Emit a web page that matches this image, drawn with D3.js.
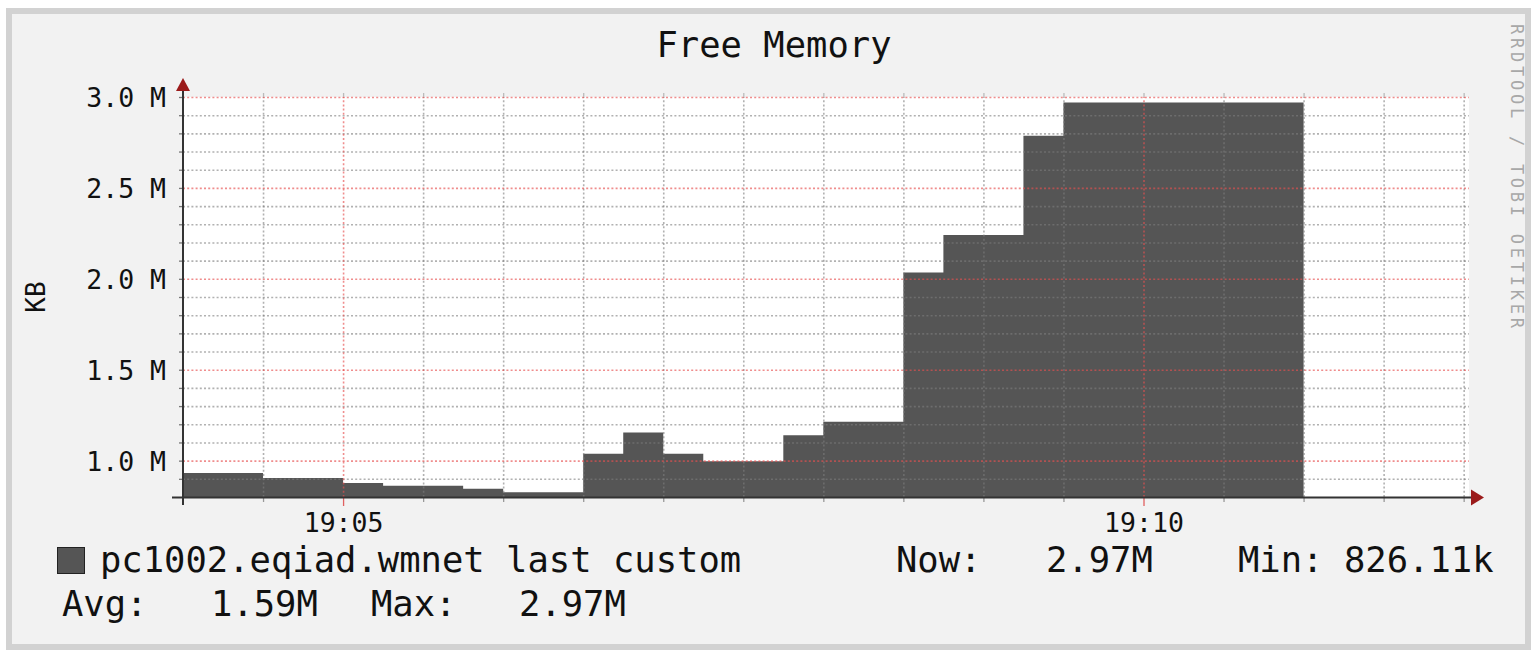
<!doctype html>
<meta charset="utf-8">
<script src="https://d3js.org/d3.v7.min.js"></script>
<style>
  body { margin: 0; background: #fff; }
  text { font-family: "DejaVu Sans Mono", monospace; fill: #111; }
</style>
<body>
<svg width="1534" height="653"></svg>
<script>
// ---- data (free memory in KB, one value per 15 s step) ----
var stepTimes = ["19:04:00", "19:04:15", "19:04:30", "19:04:45", "19:05:00", "19:05:15", "19:05:30",
  "19:05:45", "19:06:00", "19:06:15", "19:06:30", "19:06:45", "19:07:00", "19:07:15",
  "19:07:30", "19:07:45", "19:08:00", "19:08:15", "19:08:30", "19:08:45", "19:09:00",
  "19:09:15", "19:09:30", "19:09:45", "19:10:00", "19:10:15", "19:10:30", "19:10:45"];
var freeKB = [932000, 932000, 905000, 905000, 877000, 862000, 862000,
  846000, 826110, 826110, 1038000, 1155000, 1038000, 996000,
  996000, 1139000, 1214000, 1214000, 2035000, 2241000, 2241000,
  2787000, 2970000, 2970000, 2970000, 2970000, 2970000, 2970000];
var lastTime = "19:11:00";

var xDomain = ["19:04:00", "19:12:02"];
var yDomain = [800000, 3000000];
var yMajor = [1000000, 1500000, 2000000, 2500000, 3000000];
var yMajorLabels = ["1.0 M", "1.5 M", "2.0 M", "2.5 M", "3.0 M"];
var xMajor = ["19:05:00", "19:10:00"];
var xMajorLabels = ["19:05", "19:10"];

var seriesName = "pc1002.eqiad.wmnet last custom";
var statNames = ["Now:", "Min:", "Avg:", "Max:"];
var statValues = ["2.97M", "826.11k", "1.59M", "2.97M"];

// ---- layout ----
var svg = d3.select("svg");
var pLeft = 183, pRight = 1469, pTop = 97, pBottom = 497;
var parse = d3.timeParse("%H:%M:%S");

var x = d3.scaleTime().domain(xDomain.map(parse)).range([pLeft, pRight]);
var y = d3.scaleLinear().domain(yDomain).range([pBottom, pTop]);

// canvas + border
svg.append("rect").attr("x", 9).attr("y", 11).attr("width", 1519).attr("height", 636)
  .attr("fill", "#f2f2f2").attr("stroke", "#d2d2d2").attr("stroke-width", 6);

// plot background
svg.append("rect").attr("x", pLeft).attr("y", pTop)
  .attr("width", pRight - pLeft).attr("height", pBottom - pTop).attr("fill", "#fff");

// area
var points = stepTimes.map(function (t, i) { return { t: parse(t), v: freeKB[i] }; });
points.push({ t: parse(lastTime), v: freeKB[freeKB.length - 1] });

var area = d3.area()
  .curve(d3.curveStepAfter)
  .x(function (d) { return x(d.t); })
  .y0(pBottom)
  .y1(function (d) { return y(d.v); });

svg.append("path").datum(points).attr("d", area).attr("fill", "#555555");

// --------------------------------------------------------------- //
// grid (drawn on top of the area, like rrdtool)
var t0 = parse("19:04:00");
var xMinor = d3.timeSecond.every(30).range(d3.timeSecond.offset(t0, 30), x.domain()[1])
  .filter(function (d) { return d.getSeconds() !== 0 || d.getMinutes() % 5 !== 0; });
var yMinor = d3.range(9, 30).map(function (k) { return k * 100000; })
  .filter(function (v) { return v % 500000 !== 0; });

function styleGrid(g, color) {
  g.select(".domain").remove();
  g.selectAll(".tick text").remove();
  g.selectAll(".tick line")
    .attr("stroke", color)
    .attr("stroke-width", 1.6)
    .attr("stroke-dasharray", "2,2.2");
}

svg.append("g").attr("transform", "translate(0," + pBottom + ")")
  .call(d3.axisBottom(x).tickValues(xMinor).tickSize(-(pBottom - pTop)).tickFormat(""))
  .call(styleGrid, "rgba(125,125,125,0.6)");
svg.append("g").attr("transform", "translate(" + pLeft + ",0)")
  .call(d3.axisLeft(y).tickValues(yMinor).tickSize(-(pRight - pLeft)).tickFormat(""))
  .call(styleGrid, "rgba(125,125,125,0.6)");
svg.append("g").attr("transform", "translate(0," + pBottom + ")")
  .call(d3.axisBottom(x).tickValues(xMajor.map(parse)).tickSize(-(pBottom - pTop)).tickFormat(""))
  .call(styleGrid, "rgba(230,80,80,0.65)");
svg.append("g").attr("transform", "translate(" + pLeft + ",0)")
  .call(d3.axisLeft(y).tickValues(yMajor).tickSize(-(pRight - pLeft)).tickFormat(""))
  .call(styleGrid, "rgba(230,80,80,0.65)");

// small tick marks outside the plot
function tickMarks(g, color) {
  g.select(".domain").remove();
  g.selectAll(".tick text").remove();
  g.selectAll(".tick line").attr("stroke", color).attr("stroke-width", 1.3);
}
svg.append("g").attr("transform", "translate(0," + pBottom + ")")
  .call(d3.axisBottom(x).tickValues(xMinor).tickSize(5).tickFormat(""))
  .call(tickMarks, "#999");
svg.append("g").attr("transform", "translate(0," + pBottom + ")")
  .call(d3.axisBottom(x).tickValues(xMajor.map(parse)).tickSize(9).tickFormat(""))
  .call(tickMarks, "#e06060");
svg.append("g").attr("transform", "translate(0," + pTop + ")")
  .call(d3.axisTop(x).tickValues(xMinor.concat(xMajor.map(parse))).tickSize(4).tickFormat(""))
  .call(tickMarks, "#bbb");
svg.append("g").attr("transform", "translate(" + pLeft + ",0)")
  .call(d3.axisLeft(y).tickValues(yMinor.concat(yMajor)).tickSize(4).tickFormat(""))
  .call(tickMarks, "#777");

// axis lines
svg.append("line").attr("x1", pLeft).attr("x2", pLeft).attr("y1", 88).attr("y2", pBottom + 8)
  .attr("stroke", "#333").attr("stroke-width", 2);
svg.append("line").attr("x1", 172).attr("x2", 1474).attr("y1", pBottom + 0.5).attr("y2", pBottom + 0.5)
  .attr("stroke", "#333").attr("stroke-width", 2);

// arrows
svg.append("path").attr("d", "M" + pLeft + ",78 L" + (pLeft - 7) + ",91 L" + (pLeft + 7) + ",91 Z")
  .attr("fill", "#9b1b1b");
svg.append("path").attr("d", "M1484," + (pBottom + 0.5) + " L1471," + (pBottom - 7.5) + " L1471," + (pBottom + 8.5) + " Z")
  .attr("fill", "#9b1b1b");

// y labels
var yAxis = svg.append("g").attr("transform", "translate(166,0)")
  .call(d3.axisLeft(y).tickValues(yMajor).tickSize(0).tickPadding(0)
    .tickFormat(function (d, i) { return yMajorLabels[i]; }));
yAxis.select(".domain").remove();
yAxis.selectAll("text").attr("font-size", 26.5).attr("font-family", "DejaVu Sans Mono")
  .attr("fill", "#111").attr("dy", "0.36em");

// x labels
var xAxis = svg.append("g").attr("transform", "translate(0,532)")
  .call(d3.axisBottom(x).tickValues(xMajor.map(parse)).tickSize(0).tickPadding(0)
    .tickFormat(function (d, i) { return xMajorLabels[i]; }));
xAxis.select(".domain").remove();
xAxis.selectAll("text").attr("font-size", 26.5).attr("font-family", "DejaVu Sans Mono")
  .attr("fill", "#111").attr("dy", 0);

// title, unit, watermark
svg.append("text").attr("x", 774).attr("y", 57).attr("text-anchor", "middle")
  .attr("font-size", 35.5).text("Free Memory");
svg.append("text").attr("transform", "translate(45,297) rotate(-90)").attr("text-anchor", "middle")
  .attr("font-size", 26).text("KB");
svg.append("text").attr("transform", "translate(1511,24) rotate(90)")
  .attr("font-size", 17).attr("textLength", 304).attr("lengthAdjust", "spacing")
  .style("fill", "#a8a8a8").text("RRDTOOL / TOBI OETIKER");

// legend
svg.append("rect").attr("x", 57.5).attr("y", 547.5).attr("width", 27).attr("height", 26)
  .attr("fill", "#555555").attr("stroke", "#222").attr("stroke-width", 1);
var leg = svg.append("g").attr("font-size", 35.5);
leg.append("text").attr("x", 100).attr("y", 572).text(seriesName);
var statPos = [[896, 1046, 572], [1238, 1344, 572], [62, 211, 616], [371, 519, 616]];
statNames.forEach(function (n, i) {
  leg.append("text").attr("x", statPos[i][0]).attr("y", statPos[i][2]).text(n);
  leg.append("text").attr("x", statPos[i][1]).attr("y", statPos[i][2]).text(statValues[i]);
});
</script>
</body>
